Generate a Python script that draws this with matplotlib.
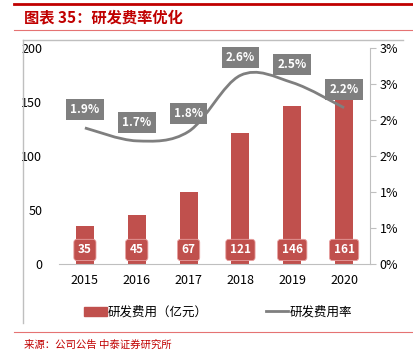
import matplotlib
matplotlib.use('Agg')
import matplotlib.pyplot as plt
from matplotlib.path import Path
from matplotlib.patches import PathPatch
from matplotlib.lines import Line2D
from matplotlib.ticker import FuncFormatter

plt.rcParams['font.family'] = ['Noto Sans CJK SC', 'DejaVu Sans']

# data
years = ['2015', '2016', '2017', '2018', '2019', '2020']
rd_cost = [35, 45, 67, 121, 146, 161]             # 研发费用（亿元）
rd_rate = [1.89, 1.71, 1.84, 2.62, 2.52, 2.17]     # 研发费用率 (%)

RED = '#C0504D'
GREY = '#7F7F7F'
DARK_RED = '#C00000'

W, H = 413, 357
fig = plt.figure(figsize=(W / 100, H / 100), dpi=100)

def fx(px):
    return px / W

def fy(py):
    return 1 - py / H

ax = fig.add_axes([fx(59), fy(264), fx(370) - fx(59), fy(48) - fy(264)])
x = list(range(len(years)))

# bars
ax.bar(x, rd_cost, width=0.35, color=RED, zorder=2, label='研发费用（亿元）')
for xi, v in zip(x, rd_cost):
    ax.text(xi, 13, str(v), ha='center', va='center', color='white', fontsize=8.5,
            fontweight='bold', zorder=4,
            bbox=dict(boxstyle='round,pad=0.35,rounding_size=0.25', fc=RED, ec='#E8A0A0', lw=0.6))

ax.set_xlim(-0.5, 5.5)
ax.set_ylim(0, 200)
ax.set_yticks([0, 50, 100, 150, 200])
ax.set_xticks(x)
ax.set_xticklabels(years)
for s in ['top', 'right', 'left']:
    ax.spines[s].set_visible(False)
ax.spines['bottom'].set_color('#BFBFBF')
ax.tick_params(axis='y', length=0, pad=12, labelsize=9)
ax.tick_params(axis='x', length=0, pad=7, labelsize=9)

# rate line on right axis, smoothed like the office chart (bezier through the points)
ax2 = ax.twinx()
ax2.set_ylim(0, 3.0)
ax2.set_yticks([0, 0.5, 1.0, 1.5, 2.0, 2.5, 3.0])
ax2.yaxis.set_major_formatter(FuncFormatter(lambda v, p: '%d%%' % round(v + 0.001)))
for s in ['top', 'left', 'bottom']:
    ax2.spines[s].set_visible(False)
ax2.spines['right'].set_color('#BFBFBF')
ax2.tick_params(axis='y', length=4, color='#BFBFBF', pad=3, labelsize=9)

pts = list(zip(x, rd_rate))
verts = [pts[0]]
codes = [Path.MOVETO]
for i in range(len(pts) - 1):
    p0 = pts[max(i - 1, 0)]
    p1 = pts[i]
    p2 = pts[i + 1]
    p3 = pts[min(i + 2, len(pts) - 1)]
    c1 = (p1[0] + (p2[0] - p0[0]) / 6, p1[1] + (p2[1] - p0[1]) / 6)
    c2 = (p2[0] - (p3[0] - p1[0]) / 6, p2[1] - (p3[1] - p1[1]) / 6)
    verts += [c1, c2, p2]
    codes += [Path.CURVE4] * 3
ax2.add_patch(PathPatch(Path(verts, codes), fc='none', ec=GREY, lw=2, zorder=3))

for xi, v in zip(x, rd_rate):
    ax2.annotate('%.1f%%' % v, (xi, v), xytext=(0, 13), textcoords='offset points',
                 ha='center', va='center', color='white', fontsize=8.5, fontweight='bold',
                 bbox=dict(boxstyle='square,pad=0.35', fc=GREY, ec='none'), zorder=5)

# legend
handles = [plt.Rectangle((0, 0), 1, 1, color=RED),
           Line2D([], [], color=GREY, lw=2)]
fig.legend(handles, ['研发费用（亿元）', '研发费用率'], loc='center',
           bbox_to_anchor=(fx(218), fy(312)), ncol=2, frameon=False, fontsize=9,
           handlelength=1.8, handletextpad=0.1, columnspacing=4.6, borderpad=0)

# frame, title and rules
fig.add_artist(Line2D([fx(23), fx(23)], [fy(40), fy(323)], color='#BFBFBF', lw=1))
fig.add_artist(Line2D([fx(23), fx(403)], [fy(40), fy(40)], color='#BFBFBF', lw=1))
fig.add_artist(Line2D([fx(14), 1], [fy(4), fy(4)], color=DARK_RED, lw=2))
fig.add_artist(Line2D([fx(14), 1], [fy(30), fy(30)], color='#E57373', lw=0.8))
fig.add_artist(Line2D([fx(14), 1], [fy(332), fy(332)], color='#E57373', lw=0.8))
fig.text(fx(24), fy(17), '图表 35：研发费率优化', color=DARK_RED, fontsize=11,
         fontweight='bold', style='italic', ha='left', va='center')
fig.text(fx(24), fy(345), '来源：公司公告 中泰证券研究所', color=DARK_RED, fontsize=7.5,
         ha='left', va='center')

fig.savefig('out.png', dpi=100)
